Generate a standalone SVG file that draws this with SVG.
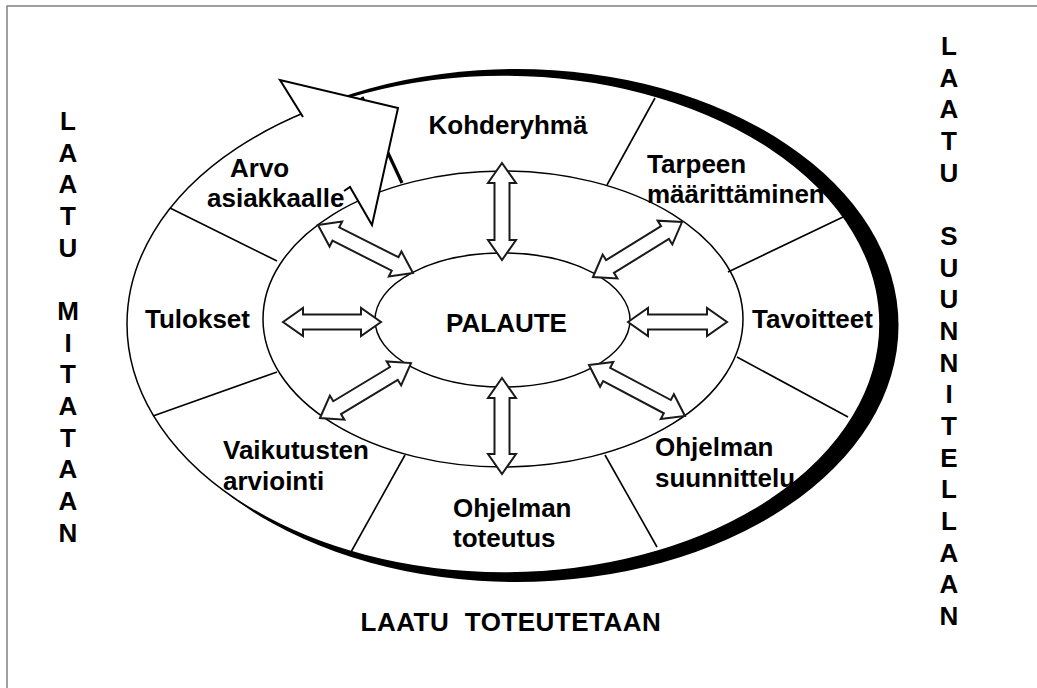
<svg xmlns="http://www.w3.org/2000/svg" width="1037" height="688" viewBox="0 0 1037 688">
<style>
.t{font-family:"Liberation Sans",Arial,sans-serif;font-weight:bold;font-size:26px;fill:#000}
.ring{fill:#fff;stroke:#000;stroke-width:1.5}
.div{stroke:#000;stroke-width:1.6;fill:none}
.da{fill:#fff;stroke:#1a1a1a;stroke-width:2;stroke-linejoin:miter}
</style>
<rect width="1037" height="688" fill="#fff"/>
<path d="M7,688 V6 H1037" fill="none" stroke="#808080" stroke-width="1.5"/>
<g id="ring">
<ellipse cx="516" cy="325.5" rx="382.5" ry="256.5" fill="#000"/>
<ellipse class="ring" cx="503.5" cy="324" rx="376.5" ry="249"/>
<ellipse class="ring" cx="503" cy="319" rx="240" ry="148"/>
</g>
<g id="dividers">
<line class="div" x1="170" y1="208" x2="277" y2="261"/>
<line class="div" x1="153" y1="416" x2="277" y2="372"/>
<line class="div" x1="405" y1="455" x2="351" y2="552"/>
<line class="div" x1="605" y1="455" x2="657" y2="547"/>
<line class="div" x1="737" y1="357" x2="848" y2="417"/>
<line class="div" x1="728" y1="272" x2="843" y2="217"/>
<line class="div" x1="607" y1="185" x2="655" y2="98"/>
<line x1="402" y1="183" x2="362" y2="97" stroke="#000" stroke-width="3.2"/>
</g>
<g id="palaute">
<ellipse class="ring" cx="502.5" cy="320" rx="127.5" ry="67"/>
<text class="t" x="506.5" y="332" text-anchor="middle">PALAUTE</text>
</g>
<g id="connectors">
<path class="da" transform="translate(502,163) rotate(90)" d="M0,0 L20,-14 L20,-7.5 L77,-7.5 L77,-14 L97,0 L77,14 L77,7.5 L20,7.5 L20,14 Z"/>
<path class="da" transform="translate(502,378) rotate(90)" d="M0,0 L20,-14 L20,-7.5 L76,-7.5 L76,-14 L96,0 L76,14 L76,7.5 L20,7.5 L20,14 Z"/>
<path class="da" transform="translate(283,322)" d="M0,0 L20,-14 L20,-7.5 L78,-7.5 L78,-14 L98,0 L78,14 L78,7.5 L20,7.5 L20,14 Z"/>
<path class="da" transform="translate(628,322)" d="M0,0 L20,-14 L20,-7.5 L79,-7.5 L79,-14 L99,0 L79,14 L79,7.5 L20,7.5 L20,14 Z"/>
<path class="da" transform="translate(318,225) rotate(26.8)" d="M0,0 L20,-14 L20,-7.5 L86.4,-7.5 L86.4,-14 L106.4,0 L86.4,14 L86.4,7.5 L20,7.5 L20,14 Z"/>
<path class="da" transform="translate(593,277) rotate(-31.7)" d="M0,0 L20,-14 L20,-7.5 L84.6,-7.5 L84.6,-14 L104.6,0 L84.6,14 L84.6,7.5 L20,7.5 L20,14 Z"/>
<path class="da" transform="translate(320,418) rotate(-31.1)" d="M0,0 L20,-14 L20,-7.5 L86.3,-7.5 L86.3,-14 L106.3,0 L86.3,14 L86.3,7.5 L20,7.5 L20,14 Z"/>
<path class="da" transform="translate(589,365) rotate(28)" d="M0,0 L20,-14 L20,-7.5 L88.7,-7.5 L88.7,-14 L108.7,0 L88.7,14 L88.7,7.5 L20,7.5 L20,14 Z"/>
</g>
<g id="big-arrow">
<path d="M303,117 L280,80 L398,108 L372,225 L350,187 L344,191" fill="#fff" stroke="#000" stroke-width="2" stroke-linejoin="miter"/>
</g>
<g id="node-arvo"><text class="t" x="230" y="177">Arvo</text><text class="t" x="207" y="207">asiakkaalle</text></g>
<g id="node-kohderyhma"><text class="t" x="508" y="134" text-anchor="middle">Kohderyhmä</text></g>
<g id="node-tarpeen"><text class="t" x="647" y="173">Tarpeen</text><text class="t" x="647" y="203">määrittäminen</text></g>
<g id="node-tavoitteet"><text class="t" x="752" y="328">Tavoitteet</text></g>
<g id="node-suunnittelu"><text class="t" x="655" y="456">Ohjelman</text><text class="t" x="655" y="487">suunnittelu</text></g>
<g id="node-toteutus"><text class="t" x="453" y="517">Ohjelman</text><text class="t" x="453" y="547">toteutus</text></g>
<g id="node-vaikutusten"><text class="t" x="223" y="459">Vaikutusten</text><text class="t" x="223" y="490">arviointi</text></g>
<g id="node-tulokset"><text class="t" x="145" y="328">Tulokset</text></g>
<g id="label-left">
<text class="t" text-anchor="middle"><tspan x="68" y="130">L</tspan><tspan x="68" y="161.7">A</tspan><tspan x="68" y="193.3">A</tspan><tspan x="68" y="225">T</tspan><tspan x="68" y="256.7">U</tspan><tspan x="68" y="320">M</tspan><tspan x="68" y="351.7">I</tspan><tspan x="68" y="383.3">T</tspan><tspan x="68" y="415">A</tspan><tspan x="68" y="446.7">T</tspan><tspan x="68" y="478.3">A</tspan><tspan x="68" y="510">A</tspan><tspan x="68" y="541.7">N</tspan></text>
</g>
<g id="label-right">
<text class="t" text-anchor="middle"><tspan x="949" y="55">L</tspan><tspan x="949" y="86.7">A</tspan><tspan x="949" y="118.3">A</tspan><tspan x="949" y="150">T</tspan><tspan x="949" y="181.7">U</tspan><tspan x="949" y="245">S</tspan><tspan x="949" y="276.7">U</tspan><tspan x="949" y="308.3">U</tspan><tspan x="949" y="340">N</tspan><tspan x="949" y="371.7">N</tspan><tspan x="949" y="403.3">I</tspan><tspan x="949" y="435">T</tspan><tspan x="949" y="466.7">E</tspan><tspan x="949" y="498.3">L</tspan><tspan x="949" y="530">L</tspan><tspan x="949" y="561.7">A</tspan><tspan x="949" y="593.3">A</tspan><tspan x="949" y="625">N</tspan></text>
</g>
<g id="label-bottom">
<text class="t" x="511" y="631" text-anchor="middle" letter-spacing="0.5" xml:space="preserve">LAATU  TOTEUTETAAN</text>
</g>
</svg>
